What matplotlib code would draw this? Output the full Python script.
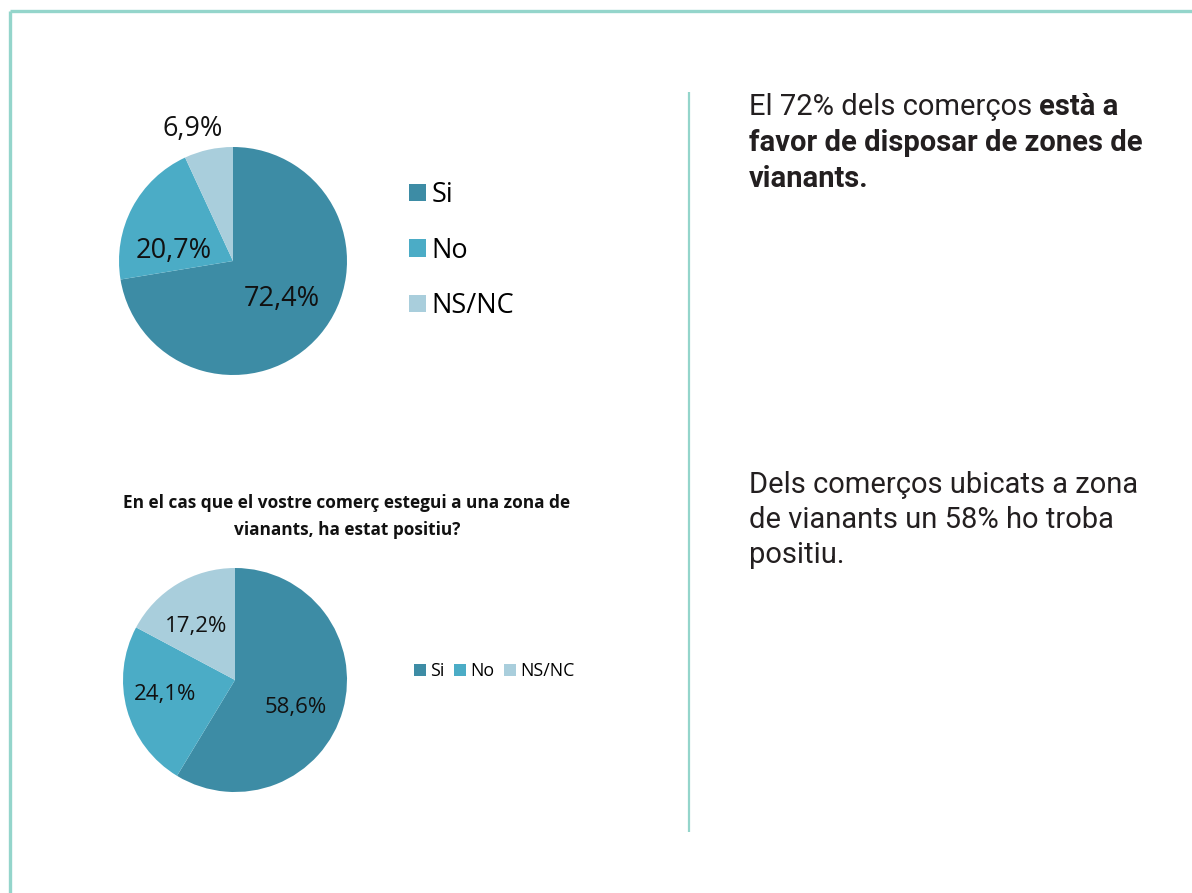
import matplotlib
matplotlib.use('Agg')
import matplotlib.pyplot as plt

# ---------------- data ----------------
categories = ['Si', 'No', 'NS/NC']
favor_values = [72.4, 20.7, 6.9]
positive_values = [58.6, 24.1, 17.2]
colors = ['#3D8CA5', '#4BACC6', '#A9CEDC']
chart2_title = "En el cas que el vostre comerç estegui a una zona de\nvianants, ha estat positiu?"
text1_runs = [[("El 72% dels comerços ", 'normal'), ("està a", 'bold')],
              [("favor de disposar de zones de", 'bold')],
              [("vianants.", 'bold')]]
text2_lines = ["Dels comerços ubicats a zona", "de vianants un 58% ho troba", "positiu."]

# label positions (pie units, relative to centre)
top_label_pos = [(0.43, -0.335), (-0.52, 0.085), (-0.35, 1.16)]
bot_label_pos = [(0.54, -0.25), (-0.62, -0.13), (-0.35, 0.48)]

W, H = 1192, 893
fig = plt.figure(figsize=(W / 100, H / 100), dpi=100)
bg = fig.add_axes([0, 0, 1, 1])
bg.set_xlim(0, W)
bg.set_ylim(H, 0)
bg.axis('off')

border = '#94D5CB'
bg.plot([10, 10], [11, H], color=border, lw=2.4, solid_capstyle='butt')
bg.plot([10, W], [11, 11], color=border, lw=2.4, solid_capstyle='butt')
bg.plot([689, 689], [92, 832], color=border, lw=1.6, solid_capstyle='butt')


def fig_rect(cx, cy, r):
    return [(cx - r) / W, (H - (cy + r)) / H, 2 * r / W, 2 * r / H]


def fmt(v):
    return f"{v:.1f}%".replace('.', ',')


LBL_FONT = 'Open Sans'

# ---------------- top pie ----------------
ax1 = fig.add_axes(fig_rect(233, 261, 114))
w1, _ = ax1.pie(favor_values, colors=colors, startangle=90, counterclock=False,
                radius=1, wedgeprops=dict(linewidth=0))
ax1.set_xlim(-1, 1)
ax1.set_ylim(-1, 1)
for v, (x, y) in zip(favor_values, top_label_pos):
    ax1.text(x, y, fmt(v), ha='center', va='center', fontsize=19.5,
             family=LBL_FONT, color='#111111')
leg1 = ax1.legend(w1, categories, loc='upper left',
                  bbox_to_anchor=(409 / W, 1 - 181 / H), bbox_transform=fig.transFigure,
                  frameon=False, prop=dict(family=LBL_FONT, size=19.5),
                  handlelength=0.62, handleheight=0.62, handletextpad=0.2,
                  labelspacing=1.02, borderpad=0, borderaxespad=0)

# ---------------- bottom pie ----------------
bg.text(347, 503, chart2_title.split('\n')[0], ha='center', va='center',
        fontsize=12.4, fontweight='bold', family=LBL_FONT, color='#111111')
bg.text(347, 530, chart2_title.split('\n')[1], ha='center', va='center',
        fontsize=12.4, fontweight='bold', family=LBL_FONT, color='#111111')

ax2 = fig.add_axes(fig_rect(235, 680, 112))
w2, _ = ax2.pie(positive_values, colors=colors, startangle=90, counterclock=False,
                radius=1, wedgeprops=dict(linewidth=0))
ax2.set_xlim(-1, 1)
ax2.set_ylim(-1, 1)
for v, (x, y) in zip(positive_values, bot_label_pos):
    ax2.text(x, y, fmt(v), ha='center', va='center', fontsize=16,
             family=LBL_FONT, color='#111111')
leg2 = ax2.legend(w2, categories, loc='center left', ncol=3,
                  bbox_to_anchor=(414 / W, 1 - 671 / H), bbox_transform=fig.transFigure,
                  frameon=False, prop=dict(family=LBL_FONT, size=12.8),
                  handlelength=0.65, handleheight=0.65, handletextpad=0.25,
                  columnspacing=0.55, borderpad=0, borderaxespad=0)

# ---------------- right texts ----------------
TXT_FONT = 'Roboto'
TXT_SIZE = 21
txt_color = '#231F20'
fig.canvas.draw()
renderer = fig.canvas.get_renderer()
space_px = TXT_SIZE * 100 / 72 * 0.25
baselines1 = [115, 151, 187]
for runs, yb in zip(text1_runs, baselines1):
    x = 749
    for s, wt in runs:
        t = bg.text(x, yb, s.rstrip(), ha='left', va='baseline', fontsize=TXT_SIZE,
                    family=TXT_FONT, fontweight=wt, color=txt_color)
        bb = t.get_window_extent(renderer)
        x = bb.x1 + (space_px if s.endswith(' ') else 0)

baselines2 = [493, 528, 563]
for s, yb in zip(text2_lines, baselines2):
    bg.text(749, yb, s, ha='left', va='baseline', fontsize=TXT_SIZE,
            family=TXT_FONT, fontweight='normal', color=txt_color)

fig.savefig('out.png', dpi=100, facecolor='white')
